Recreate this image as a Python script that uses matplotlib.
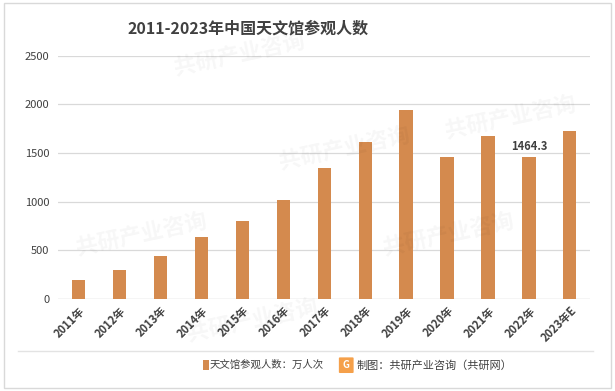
import numpy as np
import matplotlib
matplotlib.use('Agg')
import matplotlib.pyplot as plt
from matplotlib.patches import Rectangle, FancyBboxPatch

plt.rcParams['font.family'] = ['Noto Sans CJK SC', 'DejaVu Sans']

years = ['2011年', '2012年', '2013年', '2014年', '2015年', '2016年', '2017年',
         '2018年', '2019年', '2020年', '2021年', '2022年', '2023年E']
visitors = [195, 300, 440, 635, 800, 1020, 1345, 1615, 1945, 1455, 1675, 1464.3, 1730]
y_ticks = [0, 500, 1000, 1500, 2000, 2500]

BAR = '#D48A4E'
TXT = '#404040'

fig = plt.figure(figsize=(6.15, 3.91), dpi=100)
fig.patches.append(Rectangle((0.006, 0.008), 0.988, 0.985, transform=fig.transFigure,
                             fill=False, edgecolor='#D9D9D9', linewidth=1))

# faint watermark (kept inside the frame)
for (wx, wy) in [(0.28, 0.86), (0.45, 0.62), (0.12, 0.40), (0.62, 0.40),
                 (0.30, 0.18), (0.72, 0.70)]:
    fig.text(wx, wy, '共研产业咨询', fontsize=16, fontweight='bold', color='#000000',
             alpha=0.035, rotation=12, ha='left', va='center')

ax = fig.add_axes([0.094, 0.236, 0.866, 0.621])
x = np.arange(len(years))
ax.bar(x, visitors, width=0.32, color=BAR, zorder=3)
ax.text(x[11], visitors[11] + 40, '1464.3', ha='center', va='bottom',
        fontsize=8, fontweight='bold', color=TXT)

ax.set_ylim(0, 2500)
ax.set_xlim(-0.5, len(years) - 0.5)
ax.set_yticks(y_ticks)
ax.set_yticklabels([str(t) for t in y_ticks], fontsize=8, color=TXT)
ax.set_xticks(x)
ax.set_xticklabels(years, rotation=45, ha='right', rotation_mode='anchor',
                   fontsize=8, fontweight='bold', color=TXT)
ax.tick_params(length=0, pad=6)
ax.tick_params(axis='x', pad=4)
ax.grid(axis='y', color='#D9D9D9', linewidth=0.9, zorder=0)
for s in ax.spines.values():
    s.set_visible(False)
ax.axhline(0, color='#D9D9D9', linewidth=0.9, zorder=2)

fig.text(0.403, 0.926, '2011-2023年中国天文馆参观人数', ha='center', va='center',
         fontsize=11.5, fontweight='bold', color=TXT)

# bottom line and legend
fig.add_artist(plt.Line2D([0.03, 0.965], [0.103, 0.103], color='#E3E3E3', linewidth=1))
fig.patches.append(Rectangle((0.330, 0.054), 0.010, 0.026, transform=fig.transFigure,
                             facecolor=BAR, edgecolor='none'))
fig.text(0.341, 0.066, '天文馆参观人数：万人次', ha='left', va='center', fontsize=7.5, color=TXT)
fig.patches.append(FancyBboxPatch((0.553, 0.048), 0.02, 0.036, transform=fig.transFigure,
                                  boxstyle='round,pad=0.002', facecolor='#F5A04A',
                                  edgecolor='none'))
fig.text(0.563, 0.066, 'G', ha='center', va='center', fontsize=7, fontweight='bold',
         color='white')
fig.text(0.580, 0.066, '制图：共研产业咨询（共研网）', ha='left', va='center',
         fontsize=8, color=TXT)

fig.savefig('out.png', dpi=100)
